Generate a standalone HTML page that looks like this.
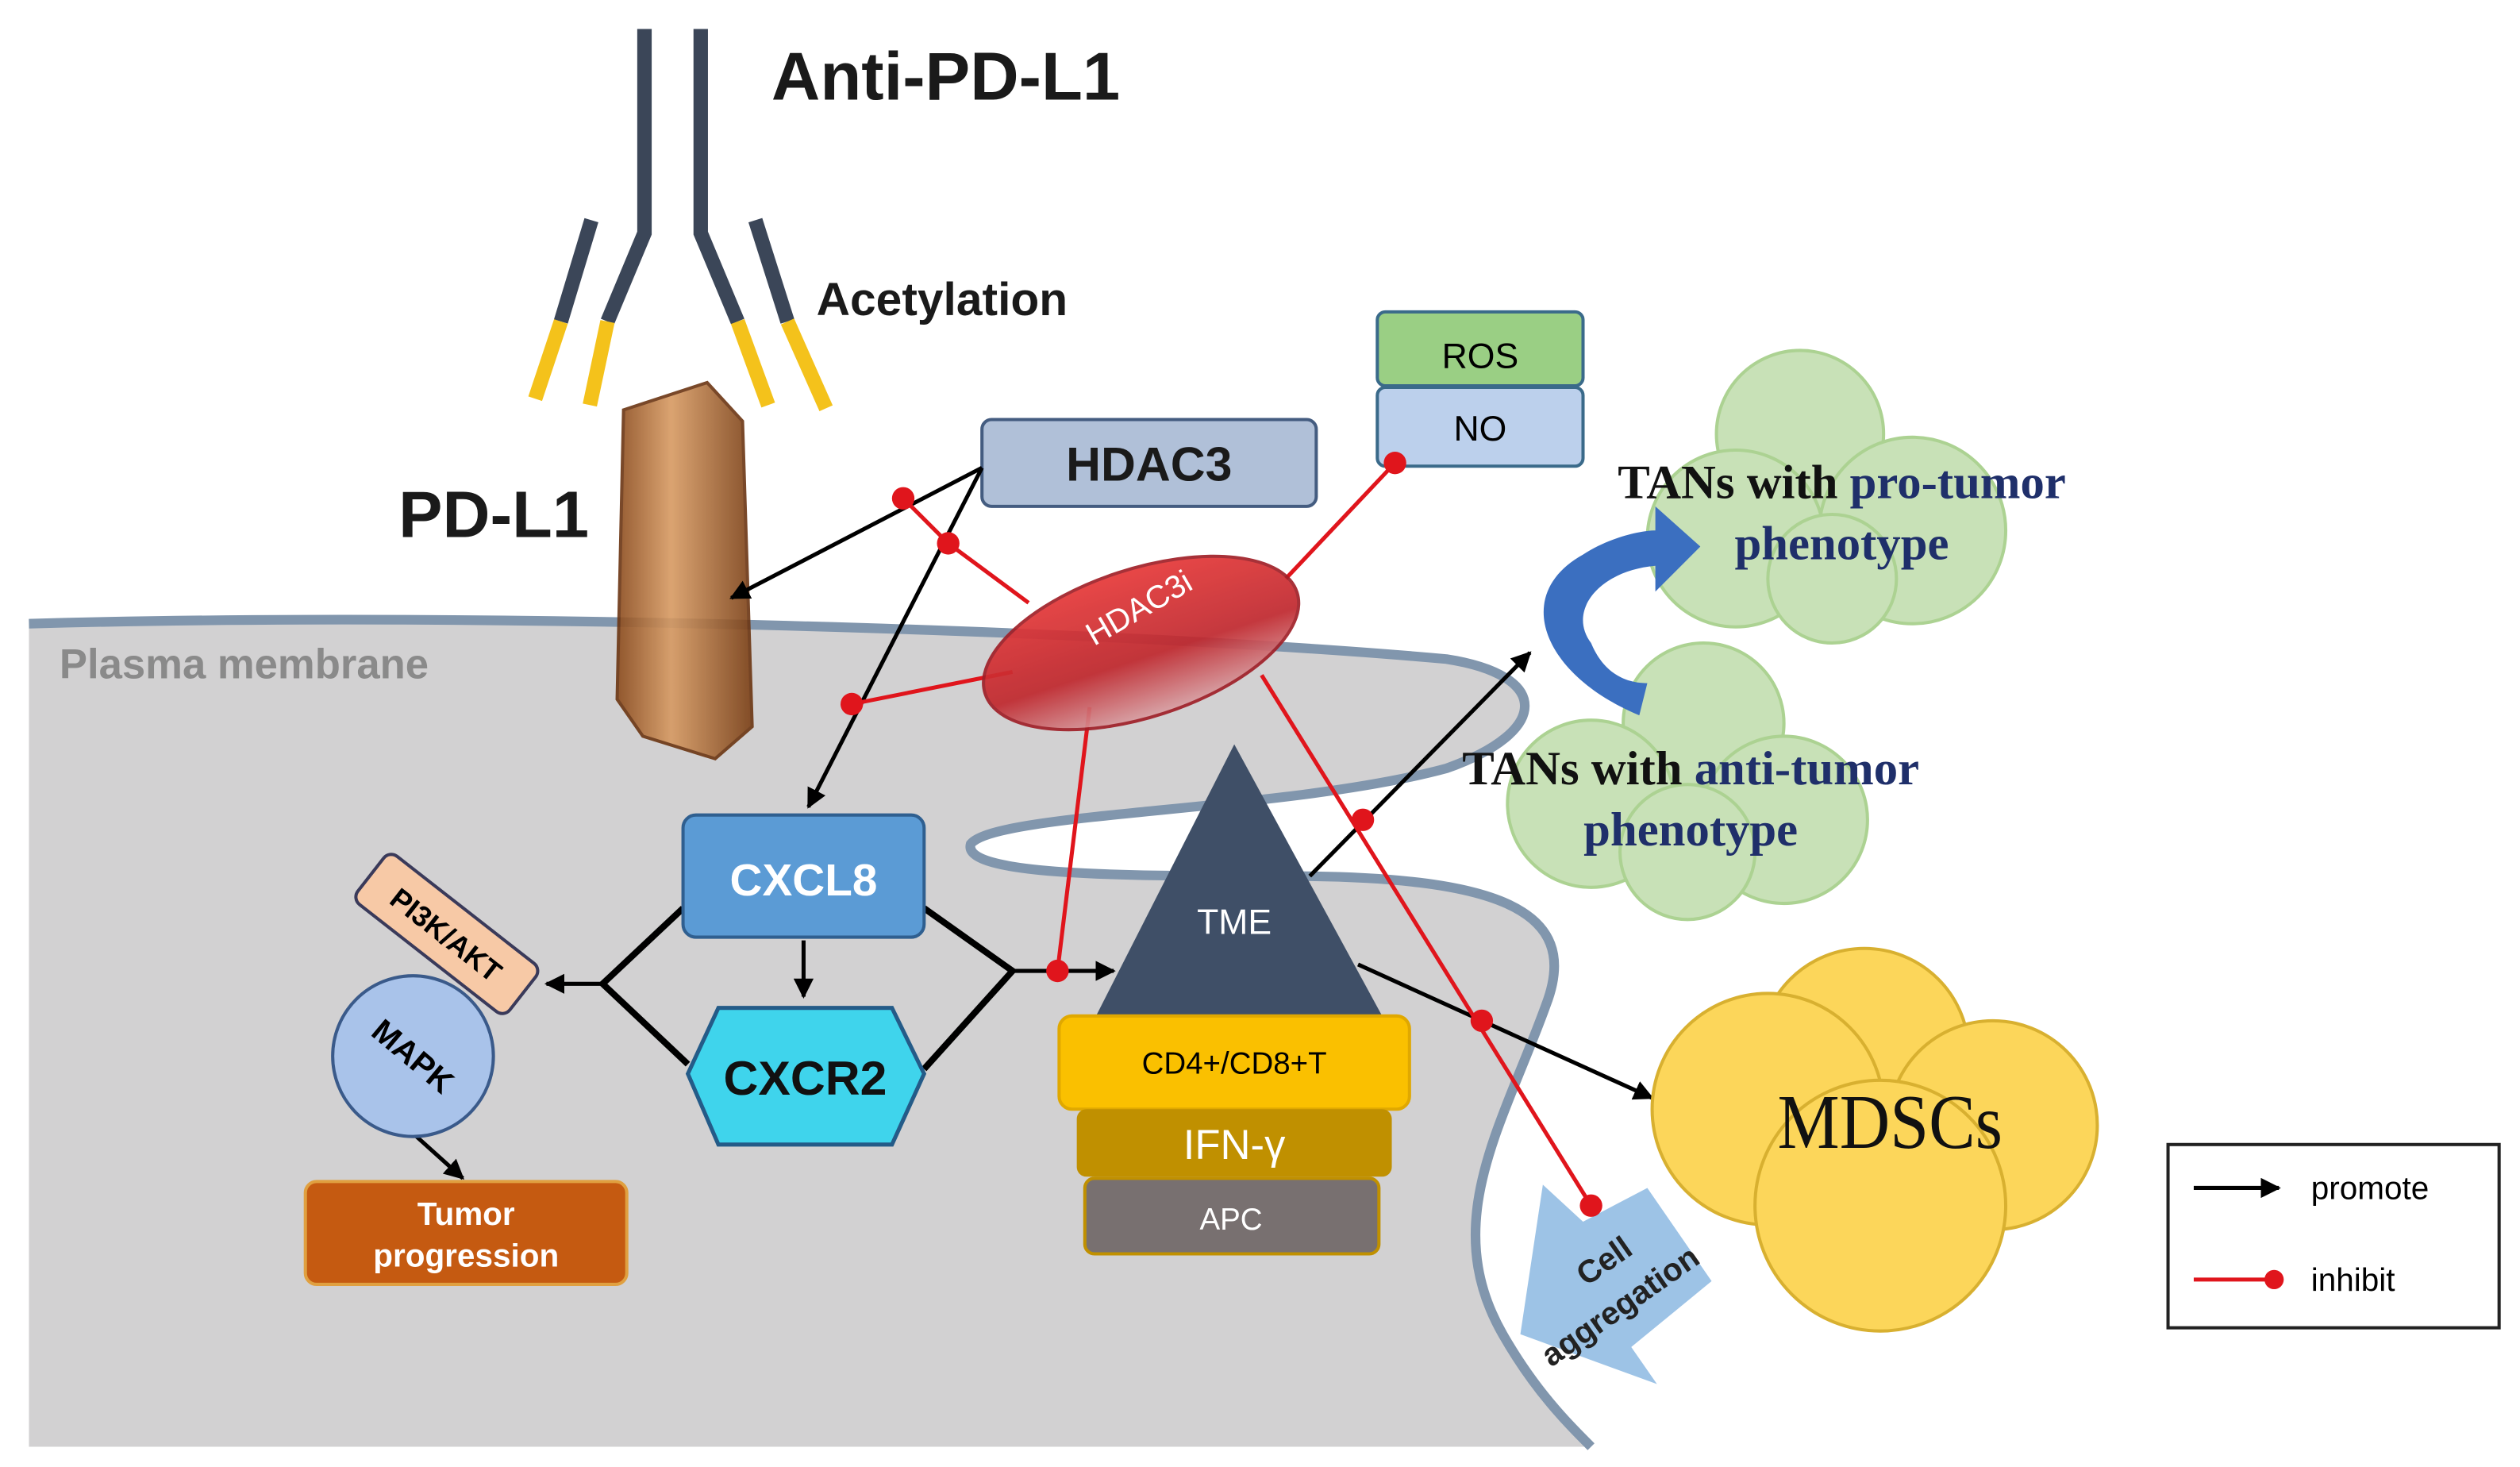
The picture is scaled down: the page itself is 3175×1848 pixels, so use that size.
<!DOCTYPE html>
<html><head><meta charset="utf-8"><style>
html,body{margin:0;padding:0;background:#fff;}
svg{display:block}
text{font-family:"Liberation Sans",sans-serif;}
.s{font-family:"Liberation Serif",serif;font-weight:bold;}
.m{font-family:"Liberation Serif",serif;font-weight:normal;}
</style></head><body>
<svg width="3175" height="1848" viewBox="0 0 1568 912.6" preserveAspectRatio="none" xmlns="http://www.w3.org/2000/svg">
<defs>
<marker id="a" viewBox="0 0 10 10" refX="9" refY="5" markerWidth="5" markerHeight="5" orient="auto"><path d="M0,0L10,5L0,10z" fill="#000"/></marker>
<linearGradient id="pd" x1="0" x2="1"><stop offset="0" stop-color="#8a4a1c"/><stop offset="0.4" stop-color="#d79a62"/><stop offset="1" stop-color="#7a3f15"/></linearGradient>
<linearGradient id="hd" x1="0" y1="0" x2="0" y2="1"><stop offset="0" stop-color="#e63838"/><stop offset="0.6" stop-color="#c0282e"/><stop offset="1" stop-color="#d9a0a4"/></linearGradient>
</defs>
<rect width="1568" height="912.6" fill="#fff"/>
<path d="M18,388 C300,380 700,392 900,410 C965,420 965,455 900,478 C800,505 620,505 604,525 C598,545 700,545 800,545 C930,545 985,565 962,625 C935,700 895,760 935,830 C955,865 975,885 990,900 L18,900 Z" fill="#d2d1d2"/>
<path d="M18,388 C300,380 700,392 900,410 C965,420 965,455 900,478 C800,505 620,505 604,525 C598,545 700,545 800,545 C930,545 985,565 962,625 C935,700 895,760 935,830 C955,865 975,885 990,900" fill="none" stroke="#8196ad" stroke-width="6"/>
<text x="37" y="422" font-size="26" fill="#8a8a8a" font-weight="bold">Plasma membrane</text>
<g stroke="#3b4658" stroke-width="9" fill="none">
<path d="M401,18 L401,145 L378,200"/><path d="M436,18 L436,145 L459,200"/>
<path d="M368,137 L349,200"/><path d="M470,137 L490,200"/>
</g>
<g stroke="#f4c21b" stroke-width="9"><path d="M378,200 L367,252"/><path d="M349,200 L333,248"/><path d="M459,200 L478,252"/><path d="M490,200 L514,254"/></g>
<text x="480" y="62" font-size="42" font-weight="bold" fill="#1a1a1a">Anti-PD-L1</text>
<text x="508" y="196" font-size="29" font-weight="bold" fill="#1a1a1a">Acetylation</text>
<text x="248" y="334" font-size="41" font-weight="bold" fill="#1a1a1a">PD-L1</text>
<path d="M388,255 L440,238 L462,262 L468,452 L445,472 L400,458 L384,435 Z" fill="url(#pd)" stroke="#6b3512" stroke-width="2" opacity="0.9"/>
<rect x="611" y="261" width="208" height="54" rx="6" fill="#b0c0d8" stroke="#445c80" stroke-width="2"/>
<text x="715" y="299" font-size="30" text-anchor="middle" fill="#1a1a1a" font-weight="bold">HDAC3</text>
<rect x="857" y="194" width="128" height="46" rx="5" fill="#9acf84" stroke="#3a6a8a" stroke-width="2"/>
<text x="921" y="229" font-size="22" text-anchor="middle">ROS</text>
<rect x="857" y="241" width="128" height="49" rx="5" fill="#bcd0ec" stroke="#3a6a8a" stroke-width="2"/>
<text x="921" y="274" font-size="22" text-anchor="middle">NO</text>
<!-- cell aggregation arrow -->
<polygon points="946,830 960,737 985,760 1025,739 1065,797 1015,838 1031,861" fill="#9dc3e6"/>
<text x="1002" y="790" font-size="20" text-anchor="middle" transform="rotate(-35 1002 790)" font-weight="bold" fill="#222">Cell</text>
<text x="1012" y="818" font-size="20" text-anchor="middle" transform="rotate(-35 1012 818)" font-weight="bold" fill="#222">aggregation</text>
<g stroke="#000" stroke-width="2.5" fill="none" marker-end="url(#a)">
<path d="M611,291 L455,372"/>
<path d="M611,291 L503,502"/>
<path d="M500,585 L500,620"/>
<path d="M375,612 L340,612"/>
<path d="M630,604 L693,604"/>
<path d="M258,706 L288,733"/>
<path d="M815,545 L952,406"/>
<path d="M845,600 L1028,683"/>
</g>
<g stroke="#000" stroke-width="4" fill="none"><path d="M425,565 L375,612 L428,662"/><path d="M575,565 L630,604 L575,665"/></g>
<g stroke="#e0151c" stroke-width="2.5" fill="none">
<path d="M562,310 L590,338 L640,375"/><path d="M868,288 L800,360"/>
<path d="M530,438 L630,418"/><path d="M678,440 L658,604"/>
<path d="M785,420 L990,750"/>
</g>
<g fill="#e0151c"><circle cx="562" cy="310" r="7"/><circle cx="590" cy="338" r="7"/><circle cx="868" cy="288" r="7"/><circle cx="530" cy="438" r="7"/><circle cx="658" cy="604" r="7"/><circle cx="848" cy="510" r="7"/><circle cx="922" cy="635" r="7"/><circle cx="990" cy="750" r="7"/></g>
<ellipse cx="710" cy="400" rx="102" ry="46" transform="rotate(-18 710 400)" fill="url(#hd)" stroke="#a02028" stroke-width="2" opacity="0.92"/>
<text x="712" y="384" font-size="20" fill="#fff" text-anchor="middle" transform="rotate(-30 712 384)">HDAC3i</text>
<rect x="425" y="507" width="150" height="76" rx="8" fill="#5b9bd5" stroke="#2f5f90" stroke-width="2"/>
<text x="500" y="557" font-size="28" text-anchor="middle" fill="#fff" font-weight="bold">CXCL8</text>
<polygon points="447,627 555,627 575,668 555,712 447,712 428,668" fill="#3fd4ec" stroke="#245b88" stroke-width="2.5"/>
<text x="501" y="681" font-size="30" text-anchor="middle" fill="#111" font-weight="bold">CXCR2</text>
<circle cx="257" cy="657" r="50" fill="#a9c3ea" stroke="#3a5a8a" stroke-width="2"/>
<text x="257" y="664" font-size="20" text-anchor="middle" transform="rotate(40 257 657)" font-weight="bold">MAPK</text>
<rect x="218" y="562" width="120" height="38" rx="6" transform="rotate(38 278 581)" fill="#f7c9a6" stroke="#3a3a5a" stroke-width="2"/>
<text x="278" y="588" font-size="18" text-anchor="middle" transform="rotate(38 278 581)" font-weight="bold">PI3K/AKT</text>
<rect x="190" y="735" width="200" height="64" rx="7" fill="#c55a11" stroke="#e0a040" stroke-width="2"/>
<text x="290" y="762" font-size="20" text-anchor="middle" fill="#fff" font-weight="bold">Tumor</text>
<text x="290" y="788" font-size="20" text-anchor="middle" fill="#fff" font-weight="bold">progression</text>
<polygon points="768,463 860,632 682,632" fill="#3f4f67"/>
<text x="768" y="581" font-size="22" text-anchor="middle" fill="#fff">TME</text>
<rect x="659" y="632" width="218" height="58" rx="8" fill="#fac000" stroke="#e0a800" stroke-width="2"/>
<text x="768" y="668" font-size="19" text-anchor="middle">CD4+/CD8+T</text>
<rect x="670" y="690" width="196" height="42" rx="6" fill="#c09000"/>
<text x="768" y="721" font-size="26" text-anchor="middle" fill="#fff">IFN-γ</text>
<rect x="675" y="733" width="183" height="47" rx="6" fill="#787070" stroke="#c09000" stroke-width="2"/>
<text x="766" y="765" font-size="19" text-anchor="middle" fill="#fff">APC</text>
<g fill="#c6e0b4" stroke="#a8d08d" stroke-width="2" opacity="0.95">
<circle cx="1120" cy="270" r="52"/><circle cx="1080" cy="335" r="55"/><circle cx="1190" cy="330" r="58"/><circle cx="1140" cy="360" r="40"/>
<circle cx="1060" cy="450" r="50"/><circle cx="990" cy="500" r="52"/><circle cx="1110" cy="510" r="52"/><circle cx="1050" cy="530" r="42"/>
</g>
<path d="M1020,445 C960,420 940,370 985,345 C1000,335 1020,330 1030,330 L1030,315 L1058,340 L1030,368 L1030,352 C995,355 975,380 990,400 C995,412 1005,425 1025,425 Z" fill="#3b6fc0"/>
<text x="1146" y="310" class="s" font-size="30" text-anchor="middle" fill="#111">TANs with <tspan fill="#1f2f6a">pro-tumor</tspan></text>
<text x="1146" y="348" class="s" font-size="30" text-anchor="middle" fill="#1f2f6a">phenotype</text>
<text x="1052" y="488" class="s" font-size="30" text-anchor="middle" fill="#111">TANs with <tspan fill="#1f2f6a">anti-tumor</tspan></text>
<text x="1052" y="526" class="s" font-size="30" text-anchor="middle" fill="#1f2f6a">phenotype</text>
<g fill="#fcd65a" stroke="#d8b030" stroke-width="2">
<circle cx="1160" cy="655" r="65"/><circle cx="1240" cy="700" r="65"/><circle cx="1100" cy="690" r="72"/><circle cx="1170" cy="750" r="78"/>
</g>
<text x="1176" y="714" class="m" font-size="48" text-anchor="middle" fill="#111" textLength="140" lengthAdjust="spacingAndGlyphs">MDSCs</text>
<rect x="1349" y="712" width="206" height="114" fill="#fff" stroke="#222" stroke-width="2"/>
<path d="M1365,739 L1418,739" stroke="#000" stroke-width="2.5" marker-end="url(#a)"/>
<text x="1438" y="746" font-size="20">promote</text>
<path d="M1365,796 L1415,796" stroke="#e0151c" stroke-width="2.5"/><circle cx="1415" cy="796" r="6" fill="#e0151c"/>
<text x="1438" y="803" font-size="20">inhibit</text>
</svg>
</body></html>
